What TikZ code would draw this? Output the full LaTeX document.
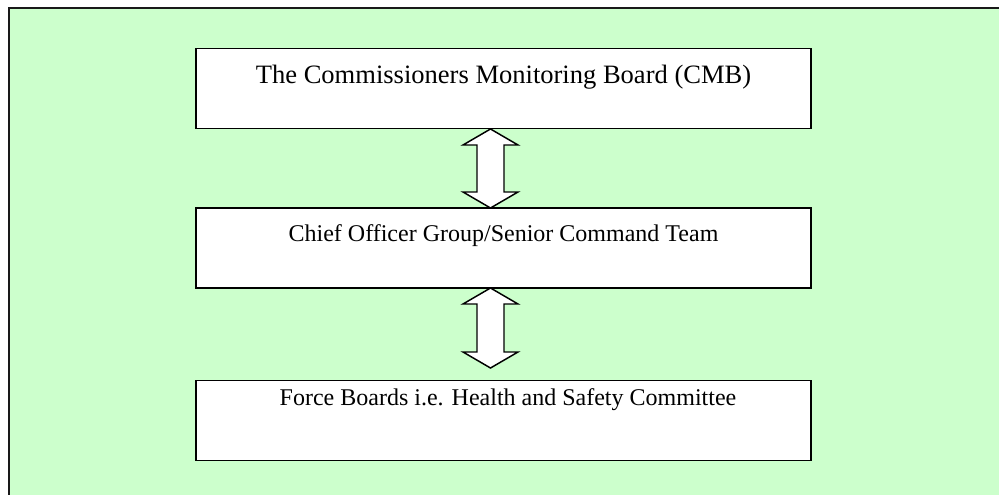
\documentclass[tikz,border=0pt]{standalone}
\usepackage{fontspec}
\setmainfont{Liberation Serif}
\usetikzlibrary{calc}
\definecolor{bggreen}{HTML}{CCFFCC}
\tikzset{
  box/.style={draw=black, line width=1.1pt, fill=white, rectangle, minimum width=615*0.75pt, minimum height=80*0.75pt, inner sep=0pt},
  boxtext/.style={anchor=base, inner sep=0pt, font=\fontsize{18pt}{21pt}\selectfont},
  bigtext/.style={anchor=base, inner sep=0pt, font=\fontsize{19.9pt}{23pt}\selectfont},
  blockarrow/.style={draw=black, line width=1.1pt, fill=white, line join=miter}
}
\newcommand\dblblockarrow[2]{%
  \draw[blockarrow] (#1) -- ($(#1)+(27.5,16)$) -- ($(#1)+(13.5,16)$) -- ($(#2)+(13.5,-16)$) -- ($(#2)+(27.5,-16)$) -- (#2) -- ($(#2)+(-27.5,-16)$) -- ($(#2)+(-13.5,-16)$) -- ($(#1)+(-13.5,16)$) -- ($(#1)+(-27.5,16)$) -- cycle;}
\begin{document}
\begin{tikzpicture}[x=0.75pt, y=-0.75pt]
  \useasboundingbox (0,0) rectangle (999,495);
  \fill[white] (0,0) rectangle (999,495);
  \begin{pgfinterruptboundingbox}
  \draw[fill=bggreen, draw=black!90, line width=1.5pt] (9,8) rectangle (1100,600);
  \end{pgfinterruptboundingbox}

  \node[box] (b1) at (503.5,88.5) {};
  \node[box] (b2) at (503.5,248) {};
  \node[box] (b3) at (503.5,420.5) {};

  \node[bigtext] (t1) at (503.5,84) {The Commissioners Monitoring Board (CMB)};
  \node[boxtext] (t2) at (503.5,242) {Chief Officer Group/Senior Command Team};
  \node[boxtext] (t3) at (508,405) {Force Boards i.e. Health and Safety Committee};

  \coordinate (a1t) at (490.5,129);
  \coordinate (a1b) at (490.5,208);
  \coordinate (a2t) at (490.5,288);
  \coordinate (a2b) at (490.5,368);
  \dblblockarrow{a1t}{a1b}
  \dblblockarrow{a2t}{a2b}
\end{tikzpicture}
\end{document}
